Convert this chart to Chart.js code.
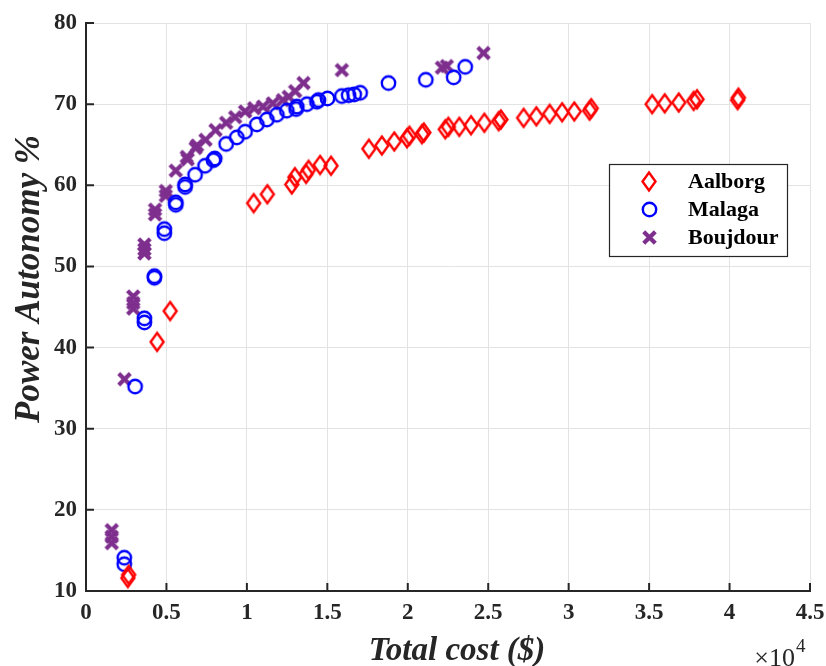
<!DOCTYPE html>
<html><head><meta charset="utf-8">
<script src="https://cdn.jsdelivr.net/npm/chart.js@4.4.1/dist/chart.umd.min.js"></script>
<style>html,body{margin:0;padding:0;background:#fff}#wrap{width:826px;height:666px;position:relative}</style>
</head><body><div id="wrap"><canvas id="c"></canvas></div>
<script>
// ---------- data ----------
const seriesNames = ['Aalborg', 'Malaga', 'Boujdour'];
const xTickLabels = ['0', '0.5', '1', '1.5', '2', '2.5', '3', '3.5', '4', '4.5'];
const yTickLabels = ['10', '20', '30', '40', '50', '60', '70', '80'];
const xAxisTitle = 'Total cost ($)';
const yAxisTitle = 'Power Autonomy %';

const aalborgCost = [2600, 2650, 4420, 5230, 10420, 11270, 12790, 12980, 13680, 13830, 14550, 15230,
  17580, 18390, 19160, 19950, 20100, 20880, 21000, 22330, 22520, 23200, 23930, 24760, 25650, 25790,
  27200, 27990, 28820, 29590, 30350, 31300, 31400, 35190, 35970, 36840, 37770, 37980, 40500, 40550];
const aalborgAutonomy = [11.6, 12.0, 40.7, 44.5, 57.8, 58.9, 60.1, 61.0, 61.4, 61.9, 62.5, 62.4,
  64.5, 64.9, 65.4, 65.8, 66.1, 66.3, 66.5, 66.9, 67.2, 67.2, 67.4, 67.7, 67.9, 68.1,
  68.3, 68.5, 68.8, 69.0, 69.1, 69.2, 69.5, 70.0, 70.1, 70.2, 70.4, 70.6, 70.5, 70.8];

const malagaCost = [2380, 2380, 3050, 3630, 3630, 4250, 4250, 4870, 4870, 5580, 5580, 6160, 6160,
  6780, 7400, 7920, 8000, 8710, 9370, 9890, 10620, 11240, 11860, 12480, 13060, 13100, 13730, 14350,
  14450, 15010, 15900, 16320, 16670, 17040, 18800, 21120, 22850, 23570];
const malagaAutonomy = [13.3, 14.1, 35.2, 43.1, 43.6, 48.6, 48.8, 54.1, 54.6, 57.6, 57.9, 59.8, 60.1,
  61.3, 62.4, 63.1, 63.3, 65.1, 65.9, 66.6, 67.5, 68.1, 68.7, 69.2, 69.4, 69.7, 70.0, 70.3,
  70.5, 70.7, 71.0, 71.1, 71.2, 71.4, 72.6, 73.0, 73.3, 74.6];

const boujdourCost = [1600, 1600, 1600, 2390, 2940, 2940, 2940, 3630, 3630, 3630, 4290, 4290, 4960, 4960,
  5580, 6260, 6320, 6810, 6900, 7430, 8050, 8710, 9270, 9890, 10450, 11000, 11610, 12230, 12600,
  13000, 13520, 15900, 22120, 22430, 24710];
const boujdourAutonomy = [17.5, 16.7, 15.9, 36.1, 46.3, 45.5, 44.8, 52.7, 52.1, 51.6, 57.0, 56.4, 59.3, 58.7,
  61.8, 63.5, 63.2, 64.6, 64.9, 65.6, 66.8, 67.7, 68.4, 69.1, 69.5, 69.7, 70.1, 70.5, 70.9,
  71.6, 72.6, 74.2, 74.5, 74.7, 76.3];

// ---------- marker images ----------
function makeDiamond(w, h, color, lw) {
  const c = document.createElement('canvas');
  c.width = Math.ceil(w + lw * 2); c.height = Math.ceil(h + lw * 2);
  const g = c.getContext('2d');
  const cx = c.width / 2, cy = c.height / 2;
  g.strokeStyle = color; g.lineWidth = lw; g.lineJoin = 'miter';
  g.beginPath();
  g.moveTo(cx, cy - h / 2); g.lineTo(cx + w / 2, cy); g.lineTo(cx, cy + h / 2); g.lineTo(cx - w / 2, cy);
  g.closePath(); g.stroke();
  return c;
}
function makeCircle(r, color, lw) {
  const c = document.createElement('canvas');
  const s = Math.ceil(2 * r + lw * 2 + 2);
  c.width = s; c.height = s;
  const g = c.getContext('2d');
  g.strokeStyle = color; g.lineWidth = lw;
  g.beginPath(); g.arc(s / 2, s / 2, r, 0, Math.PI * 2); g.stroke();
  return c;
}
function makeX(size, color, lw) {
  const c = document.createElement('canvas');
  const s = Math.ceil(size + lw * 2);
  c.width = s; c.height = s;
  const g = c.getContext('2d');
  const a = lw, b = s - lw;
  g.strokeStyle = color; g.lineWidth = lw; g.lineCap = 'square';
  g.beginPath(); g.moveTo(a, a); g.lineTo(b, b); g.moveTo(b, a); g.lineTo(a, b); g.stroke();
  return c;
}
const redC = '#ff0000', blueC = '#0000ff', purpleC = '#7e2f8e';
const diamondImg = makeDiamond(13, 18, redC, 2.4);
const circleImg = makeCircle(6.7, blueC, 2.4);
const xImg = makeX(8.5, purpleC, 4.2);

function pts(xs, ys) { return xs.map((x, i) => ({ x: x, y: ys[i] })); }

const FONT = "'Liberation Serif', 'Times New Roman', serif";
const AXIS_COLOR = '#262626';

// ---------- plugins ----------
const axisDecor = {
  id: 'axisDecor',
  afterDatasetsDraw(chart) {
    const ctx = chart.ctx, xs = chart.scales.x, ys = chart.scales.y, a = chart.chartArea;
    ctx.save();
    ctx.strokeStyle = AXIS_COLOR; ctx.lineWidth = 2;
    ctx.beginPath();
    xs.ticks.forEach(t => { const p = xs.getPixelForValue(t.value); ctx.moveTo(p, a.bottom); ctx.lineTo(p, a.bottom - 8); });
    ys.ticks.forEach(t => { const p = ys.getPixelForValue(t.value); ctx.moveTo(a.left, p); ctx.lineTo(a.left + 8, p); });
    ctx.stroke();
    ctx.fillStyle = AXIS_COLOR;
    // axis titles
    ctx.font = 'italic bold 33px ' + FONT;
    ctx.textAlign = 'center';
    ctx.textBaseline = 'middle';
    ctx.fillText(xAxisTitle, 457, 651);
    ctx.save();
    ctx.translate(30, 279);
    ctx.rotate(-Math.PI / 2);
    ctx.font = 'italic bold 35px ' + FONT;
    ctx.fillText(yAxisTitle, 0, 0);
    ctx.restore();
    // exponent label
    ctx.textBaseline = 'alphabetic';
    ctx.textAlign = 'right';
    ctx.font = '26px ' + FONT;
    ctx.fillText('\u00d710', 795, 666);
    ctx.textAlign = 'left';
    ctx.font = '19px ' + FONT;
    ctx.fillText('4', 796, 652);
    ctx.restore();
  }
};

const boxLegend = {
  id: 'boxLegend',
  afterDraw(chart) {
    const ctx = chart.ctx;
    const L = 609, T = 164, R = 787, B = 256;
    ctx.save();
    ctx.fillStyle = '#ffffff';
    ctx.fillRect(L, T, R - L, B - T);
    ctx.strokeStyle = AXIS_COLOR; ctx.lineWidth = 1.2;
    ctx.strokeRect(L + 0.5, T + 0.5, R - L, B - T);
    ctx.font = 'bold 22px ' + FONT;
    ctx.textBaseline = 'middle';
    ctx.textAlign = 'left';
    ctx.fillStyle = '#000000';
    chart.data.datasets.forEach((ds, i) => {
      const y = 181 + i * 28;
      const img = ds.pointStyle;
      ctx.drawImage(img, Math.round(649 - img.width / 2), Math.round(y - img.height / 2));
      ctx.fillText(ds.label, 688, y + 1);
    });
    ctx.restore();
  }
};

new Chart(document.getElementById('c'), {
  type: 'scatter',
  data: {
    datasets: [
      { label: seriesNames[0], data: pts(aalborgCost, aalborgAutonomy), pointStyle: diamondImg, borderColor: redC, backgroundColor: redC },
      { label: seriesNames[1], data: pts(malagaCost, malagaAutonomy), pointStyle: circleImg, borderColor: blueC, backgroundColor: blueC },
      { label: seriesNames[2], data: pts(boujdourCost, boujdourAutonomy), pointStyle: xImg, borderColor: purpleC, backgroundColor: purpleC }
    ]
  },
  options: {
    responsive: true,
    maintainAspectRatio: false,
    animation: false,
    events: [],
    layout: { padding: { top: 23, right: 16, left: 0, bottom: 0 } },
    plugins: { legend: { display: false }, tooltip: { enabled: false } },
    scales: {
      x: {
        type: 'linear', min: 0, max: 45000,
        afterFit(s) { s.height = 75; s.paddingLeft = 0; s.paddingRight = 0; },
        afterBuildTicks(s) { s.ticks = xTickLabels.map(l => ({ value: parseFloat(l) * 10000 })); },
        ticks: {
          callback: (v, i) => xTickLabels[i],
          font: { family: FONT, size: 23, weight: 'bold' }, color: AXIS_COLOR, padding: 8, maxRotation: 0
        },
        grid: { color: '#e3e3e3', lineWidth: 1, drawTicks: false },
        border: { color: AXIS_COLOR, width: 2 },
        title: { display: false }
      },
      y: {
        type: 'linear', min: 10, max: 80,
        afterFit(s) { s.width = 86; s.paddingTop = 0; s.paddingBottom = 0; },
        afterBuildTicks(s) { s.ticks = yTickLabels.map(l => ({ value: parseFloat(l) })); },
        ticks: {
          callback: (v, i) => yTickLabels[i],
          font: { family: FONT, size: 23, weight: 'bold' }, color: AXIS_COLOR, padding: 9
        },
        grid: { color: '#e3e3e3', lineWidth: 1, drawTicks: false },
        border: { color: AXIS_COLOR, width: 2 },
        title: { display: false }
      }
    }
  },
  plugins: [axisDecor, boxLegend]
});
</script>
</body></html>
